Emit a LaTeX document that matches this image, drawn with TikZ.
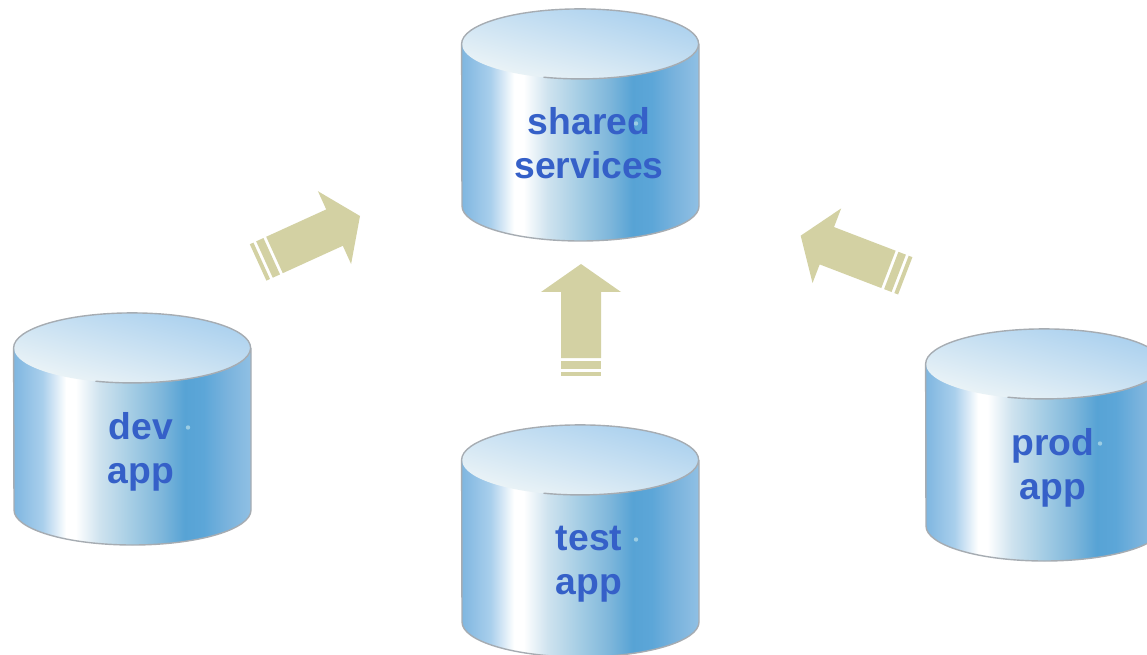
\documentclass[tikz,border=0pt]{standalone}
\usepackage{fontspec}
\setmainfont{Liberation Sans}
\usepackage{xcolor}
\definecolor{mytext}{HTML}{3560C8}
\definecolor{myarrow}{HTML}{D3D1A3}
\definecolor{myedge}{HTML}{A6ACB2}
\definecolor{mydot}{HTML}{9CCDE4}
\definecolor{lida}{HTML}{EEF5F7}
\definecolor{lidb}{HTML}{A8CFEE}
\definecolor{bodya}{HTML}{7FB6E0}
\definecolor{bodyb}{HTML}{A9CFEC}
\definecolor{bodyc}{HTML}{FFFFFF}
\definecolor{bodyd}{HTML}{CFE3EF}
\definecolor{bodye}{HTML}{A3CCE4}
\definecolor{bodyf}{HTML}{7FB7DB}
\definecolor{bodyg}{HTML}{57A3D5}
\definecolor{bodyh}{HTML}{5CA6D8}
\definecolor{bodyi}{HTML}{7AB3DD}
\definecolor{bodyj}{HTML}{90C0E4}
% the path box covers 25bp to 75bp of the shading
\pgfdeclarehorizontalshading{dbbody}{100bp}{
  color(0bp)=(bodya);
  color(25bp)=(bodya);
  color(31bp)=(bodyb);
  color(36bp)=(bodyc);
  color(38bp)=(bodyc);
  color(43bp)=(bodyd);
  color(50bp)=(bodye);
  color(56bp)=(bodyf);
  color(61bp)=(bodyg);
  color(65bp)=(bodyh);
  color(70bp)=(bodyi);
  color(75bp)=(bodyj);
  color(100bp)=(bodyj)}
\tikzset{
  dbedge/.style={draw=myedge,line width=1.4pt},
  dblabel/.style={text=mytext,align=center,inner sep=0pt,
    font=\fontsize{37.3}{44}\selectfont\bfseries},
  % cylinder, origin on top of the lid
  pics/dbcyl/.style={code={
      \shade[shading=dbbody] (-118.5,-35) -- (-118.5,-197)
      arc[start angle=180,end angle=360,x radius=118.5,y radius=35]
      -- (118.5,-35) -- cycle;
      \shade[top color=lidb,bottom color=lida,shading angle=-15]
      (0,-35) ellipse[x radius=118.5,y radius=35];
      \draw[dbedge] (-37,-68.2) arc[start angle=252,end angle=360,x radius=118.5,y radius=35]
      arc[start angle=0,end angle=180,x radius=118.5,y radius=35] -- (-118.5,-197)
      arc[start angle=180,end angle=360,x radius=118.5,y radius=35] -- (118.5,-35);
      \fill[mydot] (55.5,-114.5) circle (2.2pt);
  }},
  % block arrow with two stripes, origin on the tip
  pics/dbarrow/.style={code={
      \fill[myarrow] (0,0) -- (40,-28) -- (20,-28) -- (20,-94) -- (-20,-94)
      -- (-20,-28) -- (-40,-28) -- cycle;
      \fill[myarrow] (-20,-97) rectangle (20,-105);
      \fill[myarrow] (-20,-108) rectangle (20,-112);
  }}
}
\begin{document}
\begin{tikzpicture}[x=1pt,y=1pt]
  \useasboundingbox (0,0) rectangle (1147,654);
  \clip (0,0) rectangle (1147,654);

  % cylinders
  \pic at (580.5,645) {dbcyl};
  \pic at (132.5,341) {dbcyl};
  \pic at (580.5,229) {dbcyl};
  \pic at (1044.5,325) {dbcyl};

  % labels
  \node[dblabel] (shared) at (589,511) {shared\\services};
  \node[dblabel] (dev) at (141,202) {dev\\app};
  \node[dblabel] (test) at (589,90) {test\\app};
  \node[dblabel] (prod) at (1053,186) {prod\\app};

  % arrows
  \pic[rotate=-65.5] at (360,438) {dbarrow};
  \pic at (581,390) {dbarrow};
  \pic[rotate=69] at (800.7,418.3) {dbarrow};
\end{tikzpicture}
\end{document}
